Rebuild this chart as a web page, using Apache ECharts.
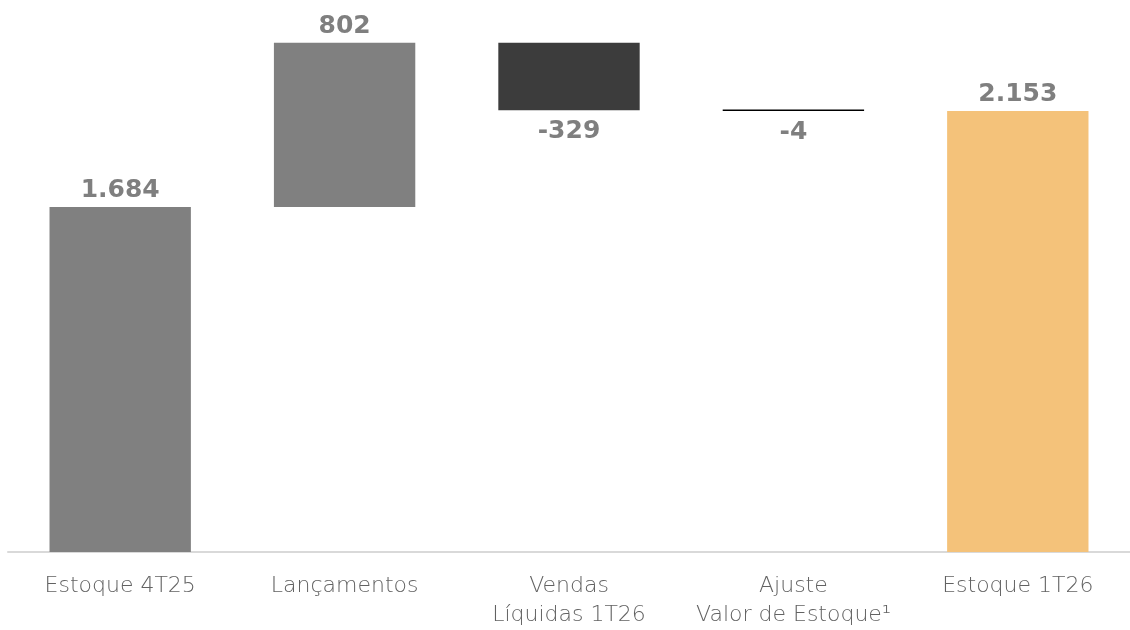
<!DOCTYPE html>
<html>
<head>
<meta charset="utf-8">
<script src="https://cdn.jsdelivr.net/npm/echarts@6/dist/echarts.min.js"></script>
<style>html,body{margin:0;padding:0;background:#fff;overflow:hidden}#c{width:1130px;height:630px}</style>
</head>
<body>
<div id="c"></div>
<script>
const categories = ['Estoque 4T25', 'Lançamentos', 'Vendas\nLíquidas 1T26', 'Ajuste\nValor de Estoque¹', 'Estoque 1T26'];
const deltas = [1684, 802, -329, -4, 2153];
const isTotal = [true, false, false, false, true];
const valueLabels = ['1.684', '802', '-329', '-4', '2.153'];
const barColors = ['#808080', '#808080', '#3c3c3c', '#000000', '#f4c27a'];

// build waterfall base/height from values
const base = [], height = [];
let running = 0;
deltas.forEach((d, i) => {
  if (isTotal[i]) { base.push(0); height.push(d); running = d; }
  else if (d >= 0) { base.push(running); height.push(d); running += d; }
  else { running += d; base.push(running); height.push(-d); }
});

const chart = echarts.init(document.getElementById('c'), null, {renderer: 'canvas', width: 1130, height: 630});
chart.setOption({
  animation: false,
  grid: {left: 8, width: 1130, top: 0, height: 556, containLabel: false},
  xAxis: {
    type: 'category',
    data: categories,
    axisLine: {lineStyle: {color: '#d9d9d9', width: 2}},
    axisTick: {show: false},
    axisLabel: {
      color: '#626262', fontSize: 22, fontFamily: 'DejaVu Sans', fontWeight: 200,
      margin: 20, lineHeight: 29, interval: 0
    }
  },
  yAxis: {type: 'value', min: 0, max: 2695, show: false, splitLine: {show: false}},
  series: [
    {
      type: 'bar', stack: 'w', data: base, barWidth: '63%',
      itemStyle: {color: 'transparent'}, silent: true
    },
    {
      type: 'bar', stack: 'w', barMinHeight: 1.5,
      data: height.map((h, i) => ({
        value: h,
        itemStyle: {color: barColors[i]},
        label: {
          show: true,
          position: deltas[i] < 0 ? 'bottom' : 'top',
          distance: deltas[i] < 0 ? 9 : 4,
          formatter: valueLabels[i],
          color: '#7f7f7f', fontSize: 25, fontWeight: 'bold', fontFamily: 'DejaVu Sans'
        }
      }))
    }
  ]
});
</script>
</body>
</html>
